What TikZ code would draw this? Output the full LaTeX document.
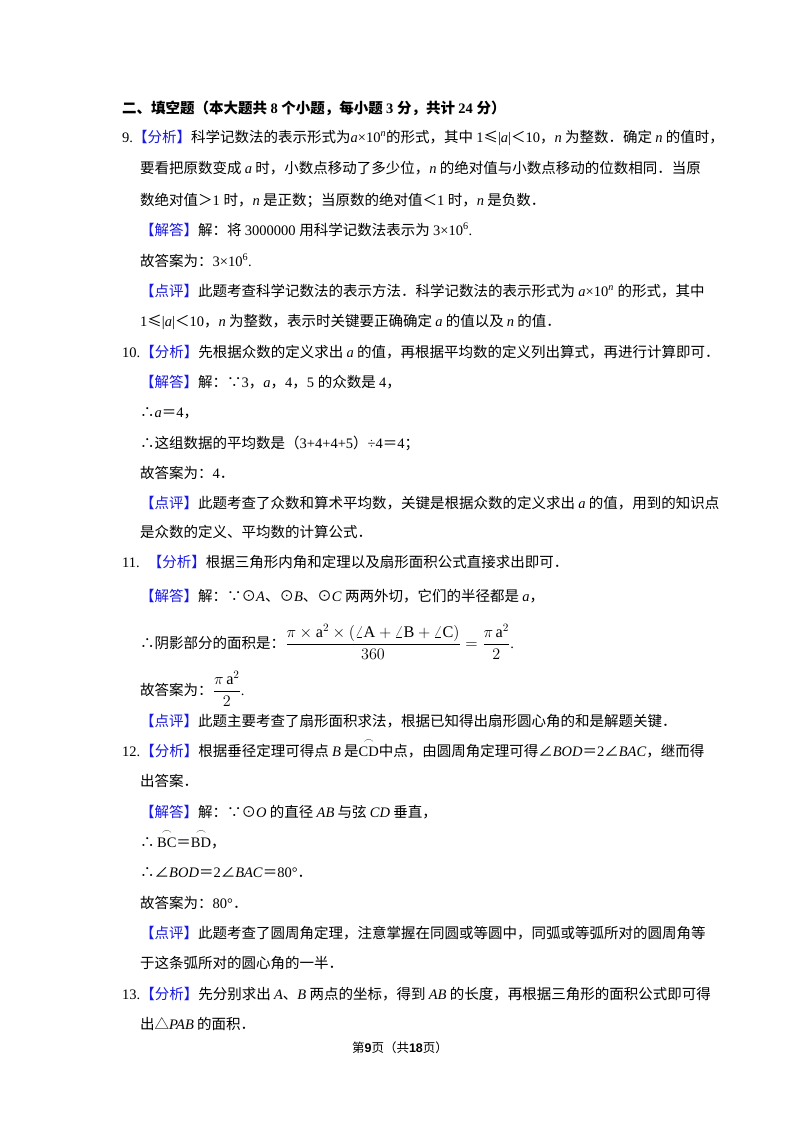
\documentclass[tikz,border=0pt]{standalone}
\usepackage{fontspec}
\usepackage{amsmath}
\setmainfont{Liberation Serif}
\newfontfamily\cjk{Noto Sans CJK SC}
\newfontfamily\ftsans{Liberation Sans}
\definecolor{bl}{RGB}{25,25,225}
\XeTeXinterchartokenstate=1
\newXeTeXintercharclass\cjkclass
\count255="4E00 \loop \XeTeXcharclass\count255=\cjkclass \advance\count255 by 1 \ifnum\count255<"A000 \repeat
\count255="3000 \loop \XeTeXcharclass\count255=\cjkclass \advance\count255 by 1 \ifnum\count255<"3040 \repeat
\count255="FF00 \loop \XeTeXcharclass\count255=\cjkclass \advance\count255 by 1 \ifnum\count255<"FFF0 \repeat
\XeTeXcharclass"2264=\cjkclass \XeTeXcharclass"2265=\cjkclass
\XeTeXcharclass"2234=\cjkclass \XeTeXcharclass"2235=\cjkclass
\XeTeXcharclass"2220=\cjkclass \XeTeXcharclass"25B3=\cjkclass
\XeTeXcharclass"2299=\cjkclass
\XeTeXinterchartoks 0 \cjkclass = {\cjk}
\XeTeXinterchartoks 4095 \cjkclass = {\cjk}
\XeTeXinterchartoks \cjkclass 0 = {\rmfamily}
\XeTeXinterchartoks 4095 0 = {\rmfamily}
\newcommand\Bx[1]{\textcolor{bl}{#1}}
\newcommand\fs{\fontsize{14.5}{17}\selectfont}
\newcommand\ia{\textit{a}}
\newcommand\inn{\textit{n}}
\newcommand\myfrac[1]{\scalebox{1.12}{#1}}
\begin{document}
\begin{tikzpicture}[x=1pt,y=1pt,ln/.style={anchor=base west,inner sep=0pt,font=\fs}]
\useasboundingbox[fill=white] (0,0) rectangle (800,-1132);
\node[ln] (h) at (122,-113) {\bfseries 二、填空题（本大题共 8 个小题，每小题 3 分，共计 24 分）};
\node[ln] (a1) at (122,-142) {9.\Bx{【分析】}科学记数法的表示形式为\ia×10\textsuperscript{\inn}的形式，其中 1≤|\ia|＜10，\inn{} 为整数．确定 \inn{} 的值时，};
\node[ln] (a2) at (140,-173) {要看把原数变成 \ia{} 时，小数点移动了多少位，\inn{} 的绝对值与小数点移动的位数相同．当原};
\node[ln] (a3) at (140,-205) {数绝对值＞1 时，\inn{} 是正数；当原数的绝对值＜1 时，\inn{} 是负数．};
\node[ln] (a4) at (140,-235) {\Bx{【解答】}解：将 3000000 用科学记数法表示为 3×10\textsuperscript{6}.};
\node[ln] (a5) at (140,-266) {故答案为：3×10\textsuperscript{6}.};
\node[ln] (a6) at (140,-296) {\Bx{【点评】}此题考查科学记数法的表示方法．科学记数法的表示形式为 \ia×10\textsuperscript{\inn} 的形式，其中};
\node[ln] (a7) at (140,-326) {1≤|\ia|＜10，\inn{} 为整数，表示时关键要正确确定 \ia{} 的值以及 \inn{} 的值．};
\node[ln] (b1) at (122,-357) {10.\Bx{【分析】}先根据众数的定义求出 \ia{} 的值，再根据平均数的定义列出算式，再进行计算即可．};
\node[ln] (b2) at (140,-387) {\Bx{【解答】}解：∵3，\ia，4，5 的众数是 4，};
\node[ln] (b3) at (140,-417) {∴\ia＝4，};
\node[ln] (b4) at (140,-448) {∴这组数据的平均数是（3+4+4+5）÷4＝4；};
\node[ln] (b5) at (140,-478) {故答案为：4．};
\node[ln] (b6) at (140,-508) {\Bx{【点评】}此题考查了众数和算术平均数，关键是根据众数的定义求出 \ia{} 的值，用到的知识点};
\node[ln] (b7) at (140,-537) {是众数的定义、平均数的计算公式．};
\node[ln] (c1) at (122,-567) {11.\hspace{8pt}\Bx{【分析】}根据三角形内角和定理以及扇形面积公式直接求出即可．};
\node[ln] (c2) at (140,-601) {\Bx{【解答】}解：∵⊙\textit{A}、⊙\textit{B}、⊙\textit{C} 两两外切，它们的半径都是 \ia，};
\node[ln] (c3) at (140,-648) {∴阴影部分的面积是：\myfrac{$\dfrac{\pi\times \mathrm{a}^{2}\times(\angle \mathrm{A}+\angle \mathrm{B}+\angle \mathrm{C})}{360}=\dfrac{\pi\,\mathrm{a}^{2}}{2}$}.};
\node[ln] (c4) at (140,-695) {故答案为：\myfrac{$\dfrac{\pi\,\mathrm{a}^{2}}{2}$}.};
\node[ln] (c5) at (140,-726) {\Bx{【点评】}此题主要考查了扇形面积求法，根据已知得出扇形圆心角的和是解题关键．};
\node[ln] (d1) at (122,-756) {12.\Bx{【分析】}根据垂径定理可得点 \textit{B} 是$\overset{\frown}{\mathrm{CD}}$中点，由圆周角定理可得∠\textit{BOD}＝2∠\textit{BAC}，继而得};
\node[ln] (d2) at (140,-786) {出答案．};
\node[ln] (d3) at (140,-817) {\Bx{【解答】}解：∵⊙\textit{O} 的直径 \textit{AB} 与弦 \textit{CD} 垂直，};
\node[ln] (d4) at (140,-847) {∴\,$\overset{\frown}{\mathrm{BC}}$＝$\overset{\frown}{\mathrm{BD}}$，};
\node[ln] (d5) at (140,-877) {∴∠\textit{BOD}＝2∠\textit{BAC}＝80°．};
\node[ln] (d6) at (140,-908) {故答案为：80°．};
\node[ln] (d7) at (140,-938) {\Bx{【点评】}此题考查了圆周角定理，注意掌握在同圆或等圆中，同弧或等弧所对的圆周角等};
\node[ln] (d8) at (140,-968) {于这条弧所对的圆心角的一半．};
\node[ln] (e1) at (122,-999) {13.\Bx{【分析】}先分别求出 \textit{A}、\textit{B} 两点的坐标，得到 \textit{AB} 的长度，再根据三角形的面积公式即可得};
\node[ln] (e2) at (140,-1029) {出△\textit{PAB} 的面积．};
\node[anchor=base,inner sep=0pt,font=\fontsize{12.5}{15}\selectfont] (f) at (400,-1052) {第{\XeTeXinterchartokenstate=0 \ftsans\bfseries 9}页（共{\XeTeXinterchartokenstate=0 \ftsans\bfseries 18}页）};
\end{tikzpicture}
\end{document}
